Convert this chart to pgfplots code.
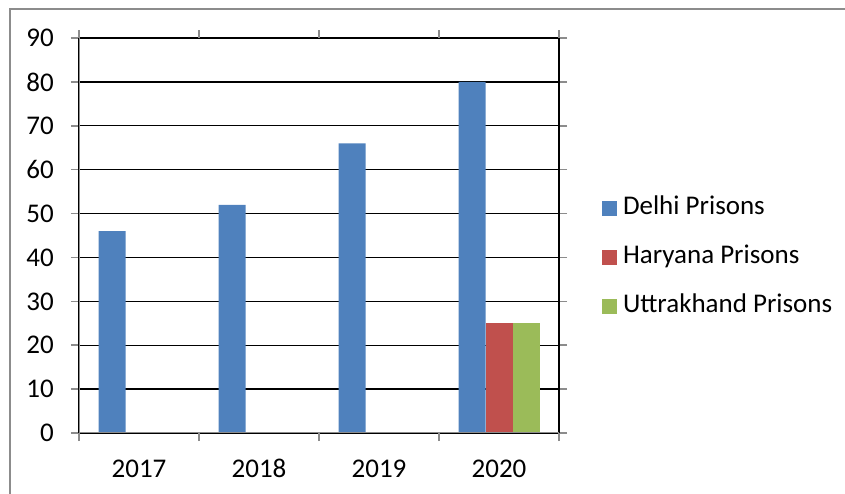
\documentclass[border=0pt]{standalone}
\usepackage{pgfplots}
\pgfplotsset{compat=1.18}
\usepackage{fontspec}
\setmainfont{Carlito}
\definecolor{dblue}{HTML}{4F81BD}
\definecolor{hred}{HTML}{C0504D}
\definecolor{ugreen}{HTML}{9BBB59}
\begin{document}
\fontsize{27bp}{32bp}\selectfont
\begin{tikzpicture}
\draw[black!45, line width=1.5bp] (10bp,0bp) -- (10bp,485bp) -- (845bp,485bp);
\begin{axis}[
  at={(79bp,61bp)}, anchor=south west,
  scale only axis, width=480bp, height=395bp,
  xmin=-0.5, xmax=3.5, ymin=0, ymax=90,
  ytick={0,10,...,90},
  ymajorgrids, grid style={black, line width=1.3bp},
  axis line style={black, line width=1.3bp},
  xtick={0,1,2,3}, xticklabels={2017,2018,2019,2020},
  x tick style={draw=none},
  y tick style={black!45, line width=1.5bp},
  major tick length=8bp, tick align=outside,
  extra x ticks={-0.5,0.5,1.5,2.5,3.5},
  extra x tick labels={},
  extra x tick style={grid=none, x tick style={draw=black!45, line width=1.5bp}},
  /pgf/number format/assume math mode=true,
  xticklabel style={inner sep=0pt, anchor=base, yshift=-36bp},
  yticklabel style={inner sep=0pt, xshift=-17bp},
  tick label style={font=\fontsize{27bp}{32bp}\selectfont},
  ybar, bar width=0.225,
  legend style={draw=none, fill=none, inner sep=0pt, outer sep=0pt,
    at={(axis description cs:1.0896,0.4431)}, anchor=west,
    row sep=21bp, column sep=4bp,
    nodes={inner sep=2bp, text height=18bp, text depth=6bp},
    font=\fontsize{27bp}{32bp}\selectfont},
  legend cell align=left,
  legend image code/.code={\fill[#1] (0bp,-7.5bp) rectangle (15bp,7.5bp);},
]
\addplot[fill=dblue, draw=none, bar shift=-0.225] coordinates {(0,46) (1,52) (2,66) (3,80)};
\addplot[fill=hred, draw=none, bar shift=0] coordinates {(3,25)};
\addplot[fill=ugreen, draw=none, bar shift=0.225] coordinates {(3,25)};
\legend{Delhi Prisons, Haryana Prisons, Uttrakhand Prisons}
\draw[black!45, line width=1.5bp] (rel axis cs:0,0) -- (rel axis cs:0,1);
\draw[black!45, line width=1.5bp] (rel axis cs:0,0) -- (rel axis cs:1,0);
\end{axis}
\pgfresetboundingbox
\path[use as bounding box] (0bp,0bp) rectangle (845bp,494bp);
\end{tikzpicture}
\end{document}
